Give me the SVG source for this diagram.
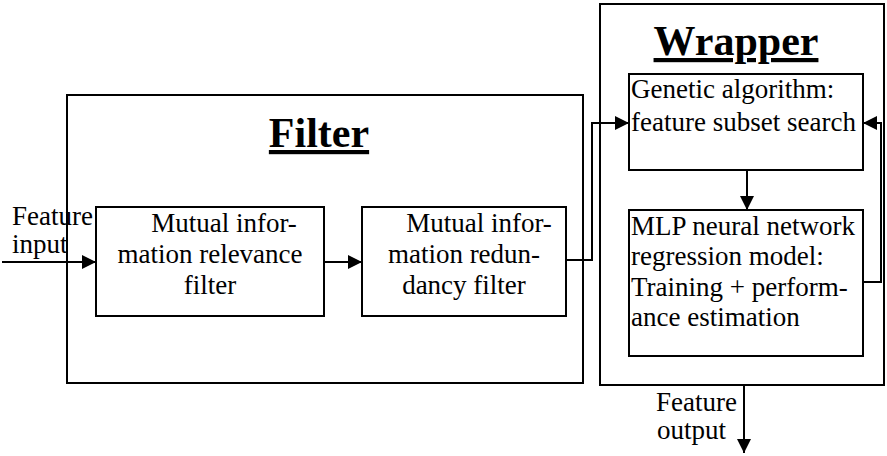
<svg xmlns="http://www.w3.org/2000/svg" width="887" height="456" viewBox="0 0 887 456">
<style>
  .box { fill: none; stroke: #000; stroke-width: 2; }
  .ln { fill: none; stroke: #000; stroke-width: 2; }
  .t { font-family: "Liberation Serif", "Times New Roman", serif; font-size: 27px; fill: #000; }
  .title { font-family: "Liberation Serif", "Times New Roman", serif; font-size: 42px; font-weight: bold; text-decoration: underline; fill: #000; }
</style>
<defs>
  <marker id="ahb" viewBox="0 0 10 10" refX="10" refY="5" markerWidth="16" markerHeight="14" markerUnits="userSpaceOnUse" orient="auto">
    <path d="M0,0 L10,5 L0,10 z" fill="#000"/>
  </marker>
</defs>
<rect width="887" height="456" fill="#fff"/>

<g id="filter">
  <rect class="box" x="67" y="95" width="516" height="288"/>
  <text class="title" x="319" y="147" text-anchor="middle">Filter</text>
</g>
<g id="wrapper">
  <rect class="box" x="600" y="4" width="284" height="381"/>
  <text class="title" x="736" y="55" text-anchor="middle">Wrapper</text>
</g>
<g id="relevance">
  <rect class="box" x="96" y="207" width="228" height="109"/>
  <text class="t" text-anchor="middle"><tspan x="224" y="232">Mutual infor-</tspan><tspan x="210" y="263">mation relevance</tspan><tspan x="210" y="294">filter</tspan></text>
</g>
<g id="redundancy">
  <rect class="box" x="362" y="207" width="204" height="109"/>
  <text class="t" text-anchor="middle"><tspan x="479" y="232">Mutual infor-</tspan><tspan x="464" y="263">mation redun-</tspan><tspan x="464" y="294">dancy filter</tspan></text>
</g>
<g id="ga">
  <rect class="box" x="629" y="74" width="234" height="96"/>
  <text class="t"><tspan x="631" y="98">Genetic algorithm:</tspan><tspan x="631" y="131">feature subset search</tspan></text>
</g>
<g id="mlp">
  <rect class="box" x="629" y="210" width="234" height="146"/>
  <text class="t"><tspan x="631" y="235">MLP neural network</tspan><tspan x="631" y="265">regression model:</tspan><tspan x="631" y="296">Training + perform-</tspan><tspan x="631" y="326">ance estimation</tspan></text>
</g>
<g id="input-label">
  <text class="t"><tspan x="12" y="225">Feature</tspan><tspan x="12" y="253">input</tspan></text>
</g>
<g id="output-label">
  <text class="t"><tspan x="656" y="411">Feature</tspan><tspan x="657" y="439">output</tspan></text>
</g>

<g id="connectors">
  <line class="ln" x1="2" y1="262" x2="96" y2="262" marker-end="url(#ahb)"/>
  <line class="ln" x1="324" y1="262" x2="362" y2="262" marker-end="url(#ahb)"/>
  <polyline class="ln" points="566,260 592,260 592,123 629,123" marker-end="url(#ahb)"/>
  <line class="ln" x1="747" y1="170" x2="747" y2="210" marker-end="url(#ahb)"/>
  <polyline class="ln" points="863,282 881,282 881,123 863,123" marker-end="url(#ahb)"/>
  <line class="ln" x1="744" y1="385" x2="744" y2="453" marker-end="url(#ahb)"/>
</g>
</svg>
